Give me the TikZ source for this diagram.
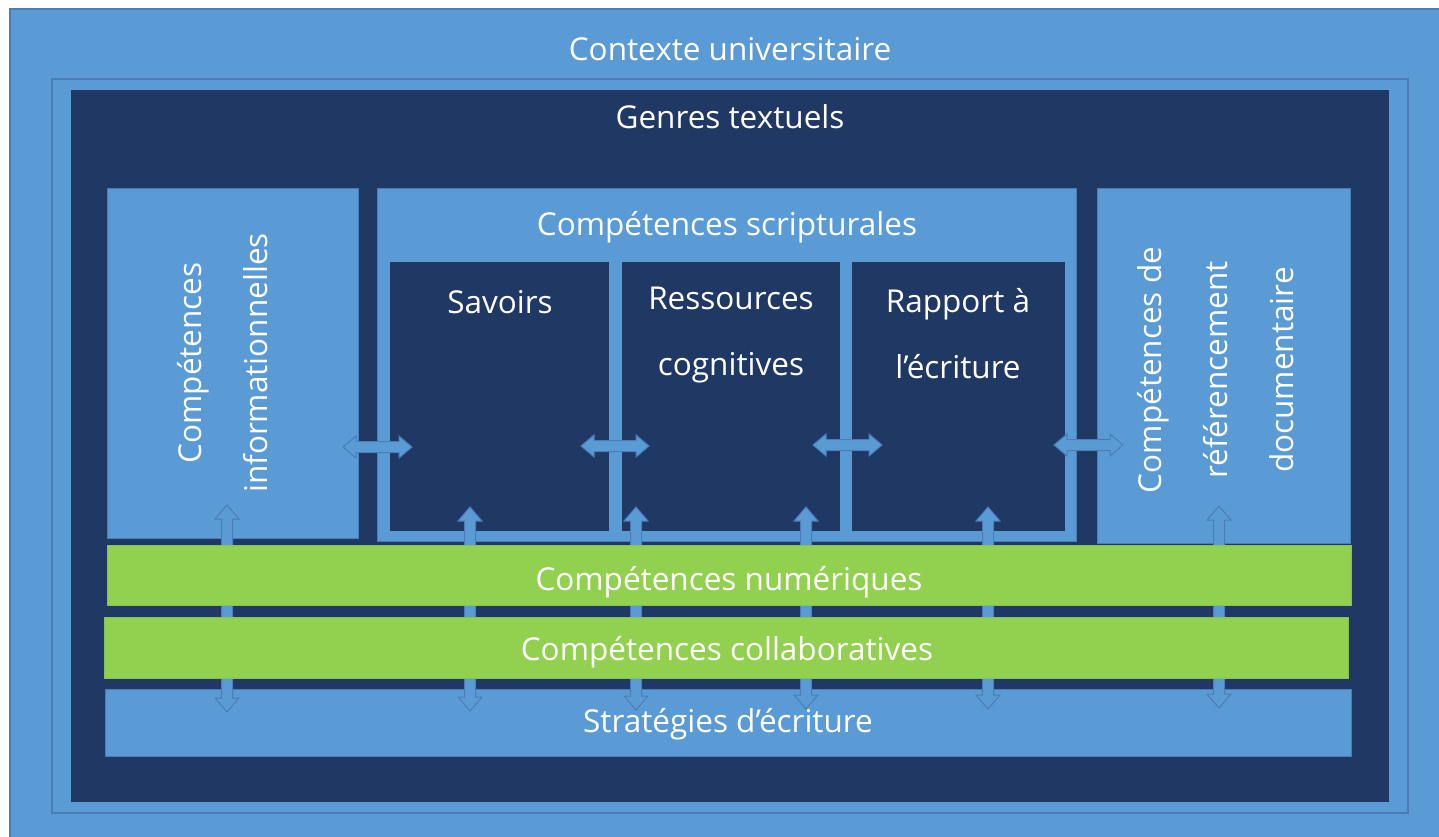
\documentclass[tikz,border=0pt]{standalone}
\usepackage{fontspec}
\setmainfont{Open Sans}
\definecolor{lb}{HTML}{5B9BD5}
\definecolor{lbd}{HTML}{4A7DB5}
\definecolor{nv}{HTML}{203864}
\definecolor{gr}{HTML}{92D050}
\newcommand\rbox[6]{\node[#2,minimum width={(#5-#3)*1pt},minimum height={(#6-#4)*1pt},inner sep=0pt,anchor=center] (#1) at ({(#3+#5)/2},{(#4+#6)/2}) {};}
% vertical double block arrow: x, ytop, ybot
\newcommand\vda[3]{\filldraw[arr] (#1-5.5,#3-14) -- (#1-5.5,#2+14) -- (#1-12,#2+14) -- (#1,#2) -- (#1+12,#2+14) -- (#1+5.5,#2+14) -- (#1+5.5,#3-14) -- (#1+12,#3-14) -- (#1,#3) -- (#1-12,#3-14) -- cycle;}
% horizontal double block arrow: xleft, xright, y
\newcommand\hda[3]{\filldraw[arr] (#1+13,#3-5.5) -- (#2-13,#3-5.5) -- (#2-13,#3-11) -- (#2,#3) -- (#2-13,#3+11) -- (#2-13,#3+5.5) -- (#1+13,#3+5.5) -- (#1+13,#3+11) -- (#1,#3) -- (#1+13,#3-11) -- cycle;}
\begin{document}
\begin{tikzpicture}[x=1pt,y=-1pt,
  lbox/.style={fill=lb,draw=lbd,line width=1pt},
  obox/.style={draw=lbd,line width=1.2pt},
  nbox/.style={fill=nv,draw=none},
  gbox/.style={fill=gr,draw=gr!80!lbd,line width=0.8pt},
  lbl/.style={text=white,font=\fontsize{31.5}{66}\selectfont,align=center,inner sep=0pt},
  arr/.style={fill=lb,draw=lbd,line width=1pt,line join=miter}]
\useasboundingbox[fill=white] (0,0) rectangle (1439,837);
% frames
\fill[lb] (10,9) rectangle (1439,837);
\draw[lbd,line width=1.2pt] (10,837) -- (10,9) -- (1439,9);
\rbox{ctx}{obox}{52}{79}{1408}{813}
\rbox{gen}{nbox}{71}{90}{1389}{802}
% top boxes
\rbox{info}{lbox}{107}{189}{358}{538}
\rbox{scrip}{lbox}{377}{189}{1076}{541}
\rbox{sav}{nbox}{390}{262}{609}{531}
\rbox{res}{nbox}{622}{262}{840}{531}
\rbox{rap}{nbox}{852}{262}{1065}{531}
\rbox{ref}{lbox}{1097}{189}{1350}{543}
% bottom bar
\rbox{strat}{lbox}{105}{689}{1351}{756}
% arrows
\vda{227}{505}{712}
\vda{470}{507}{711}
\vda{636}{507}{710}
\vda{806}{507}{709}
\vda{988}{507}{709}
\vda{1219}{506}{708}
\hda{343}{412}{447}
\hda{581}{649}{446}
\hda{813}{882}{445}
\hda{1054}{1123}{445}
% green bars
\rbox{num}{gbox}{107}{545}{1351}{605}
\rbox{col}{gbox}{104}{617}{1348}{678}
% labels
\node[lbl] (tctx) at (730,49) {Contexte universitaire};
\node[lbl] (tgen) at (730,117) {Genres textuels};
\node[lbl] (tscrip) at (727,227) {Compétences scripturales};
\node[lbl] (tsav) at (500,302) {Savoirs};
\node[lbl] (tres) at (731,335) {Ressources\\cognitives};
\node[lbl] (trap) at (958,334) {Rapport à\\l’écriture};
\node[lbl,rotate=90] (tinfo) at (223,363) {Compétences\\informationnelles};
\node[lbl,rotate=90] (tref) at (1216,370) {Compétences de\\référencement\\documentaire};
\node[lbl] (tnum) at (729,582) {Compétences numériques};
\node[lbl] (tcol) at (727,652) {Compétences collaboratives};
\node[lbl] (tstrat) at (728,724) {Stratégies d’écriture};
\end{tikzpicture}
\end{document}
